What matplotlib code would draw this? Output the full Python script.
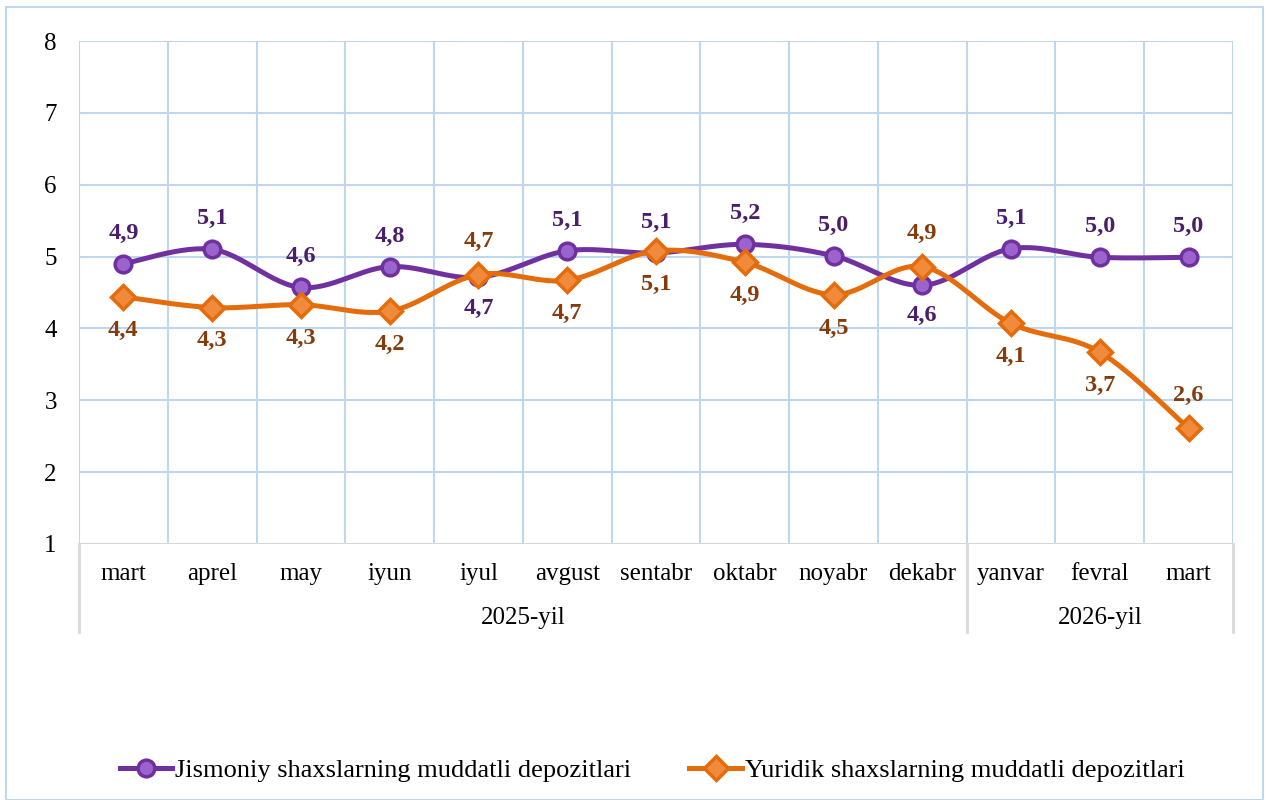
import numpy as np
import matplotlib.pyplot as plt
from matplotlib.patches import Rectangle

plt.rcParams['font.family'] = ['Liberation Serif', 'DejaVu Serif']

months = ["mart", "aprel", "may", "iyun", "iyul", "avgust", "sentabr",
          "oktabr", "noyabr", "dekabr", "yanvar", "fevral", "mart"]
years = ["2025-yil", "2026-yil"]
year_len = [10, 3]

jismoniy = [4.90, 5.10, 4.57, 4.86, 4.71, 5.08, 5.05, 5.17, 5.01, 4.60, 5.11, 4.99, 4.99]
yuridik = [4.44, 4.29, 4.33, 4.24, 4.75, 4.67, 5.08, 4.92, 4.47, 4.86, 4.07, 3.67, 2.61]
jis_labels = ["4,9", "5,1", "4,6", "4,8", "4,7", "5,1", "5,1", "5,2", "5,0", "4,6", "5,1", "5,0", "5,0"]
yur_labels = ["4,4", "4,3", "4,3", "4,2", "4,7", "4,7", "5,1", "4,9", "4,5", "4,9", "4,1", "3,7", "2,6"]
# label side: 1 above, -1 below
jis_side = [1, 1, 1, 1, -1, 1, 1, 1, 1, -1, 1, 1, 1]
yur_side = [-1, -1, -1, -1, 1, -1, -1, -1, -1, 1, -1, -1, 1]


def smooth(x, y, n=30):
    # excel-like smoothing (catmull-rom bezier)
    x = np.asarray(x, float)
    y = np.asarray(y, float)
    px = np.concatenate([[x[0]], x, [x[-1]]])
    py = np.concatenate([[y[0]], y, [y[-1]]])
    xs, ys = [], []
    t = np.linspace(0, 1, n)
    for i in range(len(x) - 1):
        p0 = np.array([px[i + 1], py[i + 1]])
        p3 = np.array([px[i + 2], py[i + 2]])
        c1 = p0 + (p3 - np.array([px[i], py[i]])) / 6
        c2 = p3 - (np.array([px[i + 3], py[i + 3]]) - p0) / 6
        pts = ((1 - t) ** 3)[:, None] * p0 + (3 * (1 - t) ** 2 * t)[:, None] * c1 \
            + (3 * (1 - t) * t ** 2)[:, None] * c2 + (t ** 3)[:, None] * p3
        xs.extend(pts[:, 0])
        ys.extend(pts[:, 1])
    return xs, ys


grid_c = "#BDD7EE"
axis_c = "#D9D9D9"
pur = "#7030A0"
pur_fill = "#9B63CC"
pur_txt = "#4A1E6B"
ora = "#E46C0A"
ora_fill = "#F08A3C"
ora_txt = "#843C0C"

fig = plt.figure(figsize=(12.69, 8), dpi=100)
ax = fig.add_axes([79 / 1269, 1 - 544 / 800, (1233 - 79) / 1269, (544 - 41) / 800])

x = np.arange(len(months))
ax.set_xlim(-0.5, len(months) - 0.5)
ax.set_ylim(1, 8)
ax.set_yticks(range(1, 9))
for v in range(1, 9):
    ax.axhline(v, color=grid_c, lw=1.5, zorder=0)
for b in np.arange(-0.5, len(months), 1):
    ax.axvline(b, color=grid_c, lw=1.5, zorder=0)
for s in ax.spines.values():
    s.set_visible(False)
ax.axhline(1, color=axis_c, lw=2, zorder=1)
ax.set_xticks([])
ax.tick_params(axis='y', length=0, pad=16, labelsize=18)

sx, sy = smooth(x, jismoniy)
ax.plot(sx, sy, color=pur, lw=3.6, zorder=3)
ax.plot(x, jismoniy, 'o', ms=12, mfc=pur_fill, mec=pur, mew=2.5, zorder=4)
sx, sy = smooth(x, yuridik)
ax.plot(sx, sy, color=ora, lw=3.6, zorder=3)
ax.plot(x, yuridik, 'D', ms=12, mfc=ora_fill, mec=ora, mew=2.5, zorder=4)

for i in range(len(months)):
    ax.annotate(jis_labels[i], (x[i], jismoniy[i]), xytext=(0, 22 * jis_side[i]),
                textcoords='offset points', ha='center', va='center',
                fontsize=17.5, fontweight='bold', color=pur_txt, zorder=5)
    ax.annotate(yur_labels[i], (x[i], yuridik[i]), xytext=(0, 24 * yur_side[i]),
                textcoords='offset points', ha='center', va='center',
                fontsize=17.5, fontweight='bold', color=ora_txt, zorder=5)

# multi-level category axis
tr = ax.get_xaxis_transform()
for i, m in enumerate(months):
    ax.text(x[i], -30 / 503, m, transform=tr, ha='center', va='center', fontsize=18)
start = -0.5
ax.plot([start, start], [0, -88 / 503], transform=tr, color=axis_c, lw=2, clip_on=False)
for yr, n in zip(years, year_len):
    end = start + n
    ax.text((start + end) / 2, -74 / 503, yr, transform=tr, ha='center', va='center', fontsize=18)
    ax.plot([end, end], [0, -88 / 503], transform=tr, color=axis_c, lw=2, clip_on=False)
    start = end

h1, = ax.plot([], [], color=pur, lw=3.6, marker='o', ms=12, mfc=pur_fill, mec=pur, mew=2.5)
h2, = ax.plot([], [], color=ora, lw=3.6, marker='D', ms=12, mfc=ora_fill, mec=ora, mew=2.5)
fig.legend([h1, h2], ["Jismoniy shaxslarning muddatli depozitlari",
                      "Yuridik shaxslarning muddatli depozitlari"],
           loc='center', bbox_to_anchor=(652 / 1269, 1 - 770 / 800), ncol=2,
           frameon=False, fontsize=19, handlelength=2.0, handletextpad=0.1,
           columnspacing=2.2)

fig.patches.append(Rectangle((6 / 1269, 0), 1257 / 1269, 1 - 7 / 800,
                             transform=fig.transFigure, fill=False,
                             edgecolor=grid_c, lw=1.5))

fig.savefig("out.png", dpi=100)
